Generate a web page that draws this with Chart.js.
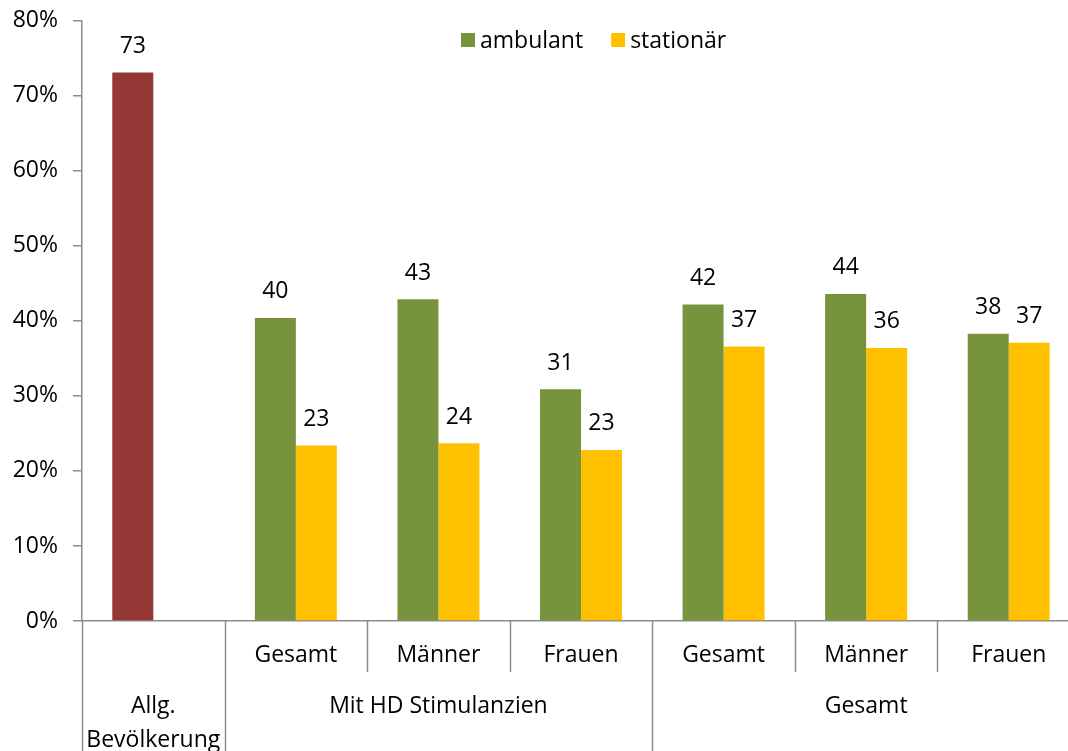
<!DOCTYPE html>
<html>
<head>
<meta charset="utf-8">
<script src="https://cdn.jsdelivr.net/npm/chart.js@4/dist/chart.umd.min.js"></script>
<style>
  html, body { margin: 0; padding: 0; overflow: hidden; background: #fff; }
  #wrap { width: 1085px; height: 759px; margin-top: -8px; }
</style>
</head>
<body>
<div id="wrap"><canvas id="c"></canvas></div>
<script>
// data
const categories = ['', 'Gesamt', 'Männer', 'Frauen', 'Gesamt', 'Männer', 'Frauen'];
const groupLabels = [['Allg.', 'Bevölkerung'], ['Mit HD Stimulanzien'], ['Gesamt']];
const groupSpans = [1, 3, 3];
const seriesNames = ['ambulant', 'stationär'];
const ambulant = [73.1, 40.4, 42.9, 30.9, 42.2, 43.6, 38.3];
const stationaer = [null, 23.4, 23.7, 22.8, 36.6, 36.4, 37.1];
const yTicks = [0, 10, 20, 30, 40, 50, 60, 70, 80];

const GREEN = '#77933C';
const GOLD = '#FFC000';
const RED = '#953735';
const AXIS = '#8c8c8c';
const FONT = '"Open Sans", Lato, sans-serif';
const FSIZE = 23;

const extras = {
  id: 'extras',
  afterDatasetsDraw(chart) {
    const ctx = chart.ctx;
    ctx.save();
    ctx.font = `${FSIZE}px ${FONT}`;
    ctx.fillStyle = '#000';
    ctx.textAlign = 'center';
    ctx.textBaseline = 'middle';
    chart.data.datasets.forEach((ds, i) => {
      chart.getDatasetMeta(i).data.forEach((bar, j) => {
        const v = ds.data[j];
        if (v == null) return;
        ctx.fillText(Math.round(v), bar.x, bar.y - 26);
      });
    });
    ctx.restore();
  },
  afterDraw(chart) {
    const ctx = chart.ctx;
    const x = chart.scales.x;
    const area = chart.chartArea;
    const step = x.getPixelForValue(1) - x.getPixelForValue(0);
    const edge = i => x.getPixelForValue(0) - step / 2 + i * step;

    // group starts for the two-level axis
    const starts = [0];
    groupSpans.forEach(n => starts.push(starts[starts.length - 1] + n));

    ctx.save();
    ctx.strokeStyle = AXIS;
    ctx.lineWidth = 1.5;
    for (let i = 0; i <= categories.length; i++) {
      const full = starts.includes(i);
      const px = Math.round(edge(i)) + 0.5;
      ctx.beginPath();
      ctx.moveTo(px, area.bottom);
      ctx.lineTo(px, full ? chart.height : area.bottom + 51);
      ctx.stroke();
    }

    ctx.font = `${FSIZE}px ${FONT}`;
    ctx.fillStyle = '#000';
    ctx.textAlign = 'center';
    ctx.textBaseline = 'middle';
    categories.forEach((c, i) => ctx.fillText(c, x.getPixelForValue(i), area.bottom + 34));
    groupLabels.forEach((lines, g) => {
      const cx = (edge(starts[g]) + edge(starts[g + 1])) / 2;
      lines.forEach((t, k) => ctx.fillText(t, cx, area.bottom + 85 + k * 34));
    });

    // legend
    const colors = [GREEN, GOLD];
    let lx = 461;
    ctx.textAlign = 'left';
    seriesNames.forEach((name, i) => {
      ctx.fillStyle = colors[i];
      ctx.fillRect(lx, 41, 14, 14);
      ctx.fillStyle = '#000';
      ctx.fillText(name, lx + 19, 49);
      lx += 19 + ctx.measureText(name).width + 28;
    });
    ctx.restore();
  }
};

new Chart(document.getElementById('c'), {
  type: 'bar',
  data: {
    labels: categories,
    datasets: [
      {
        label: seriesNames[0],
        data: ambulant,
        backgroundColor: ambulant.map((v, i) => i === 0 ? RED : GREEN)
      },
      {
        label: seriesNames[1],
        data: stationaer,
        backgroundColor: GOLD
      }
    ]
  },
  options: {
    responsive: true,
    maintainAspectRatio: false,
    animation: false,
    devicePixelRatio: 1,
    layout: { padding: { top: 8, right: 5, left: 0, bottom: 0 } },
    datasets: { bar: { categoryPercentage: 0.575, barPercentage: 1 } },
    plugins: { legend: { display: false }, tooltip: { enabled: false } },
    scales: {
      x: {
        ticks: { display: false },
        grid: { display: false },
        border: { color: AXIS, width: 1.5 },
        afterFit(s) { s.height = 130; }
      },
      y: {
        min: 0,
        max: 80,
        afterBuildTicks(s) { s.ticks = yTicks.map(v => ({ value: v })); },
        ticks: {
          callback: v => v + '%',
          font: { size: FSIZE, family: FONT },
          color: '#000',
          padding: 15
        },
        grid: { drawOnChartArea: false, tickLength: 9, color: AXIS, lineWidth: 1.5 },
        border: { color: AXIS, width: 1.5 },
        afterFit(s) { s.width = 82; }
      }
    }
  },
  plugins: [extras]
});
</script>
</body>
</html>
